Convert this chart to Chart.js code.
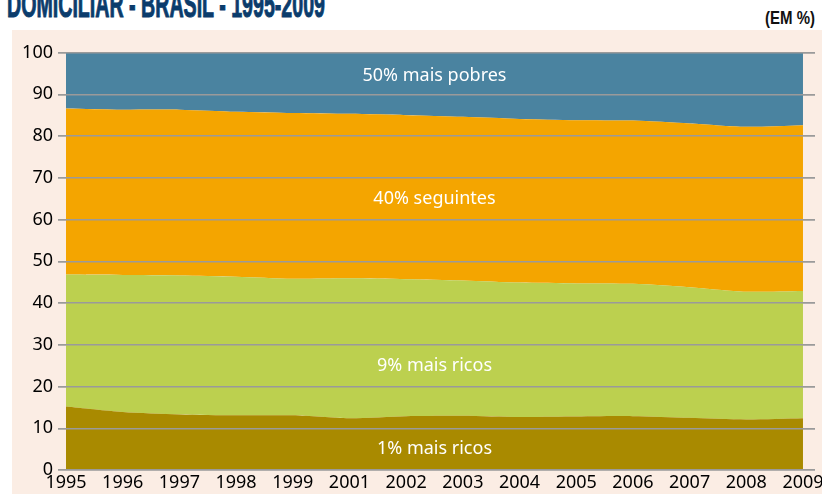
<!DOCTYPE html>
<html>
<head>
<meta charset="utf-8">
<script src="https://cdn.jsdelivr.net/npm/chart.js@4.4.1/dist/chart.umd.min.js"></script>
<style>
  body { margin: 0; width: 822px; height: 494px; overflow: hidden; background: #fff; position: relative; }
  #bg { position: absolute; left: 12px; top: 30px; right: 0; bottom: 0; background: #fbede4; }
  #title { position: absolute; left: 7px; top: -13.5px; font: bold 36px "Liberation Sans", "DejaVu Sans", sans-serif; line-height: 36px; color: #0b3c6c; white-space: nowrap; transform-origin: left top; -webkit-text-stroke: 1px #0b3c6c; }
  #unit { position: absolute; left: 765px; top: 8px; font: bold 19px "Liberation Sans", "DejaVu Sans", sans-serif; line-height: 19px; color: #111; white-space: nowrap; transform-origin: left top; }
  #myChart { position: absolute; left: 0; top: 0; }
</style>
</head>
<body>
<div id="bg"></div>
<div id="title">DOMICILIAR - BRASIL - 1995-2009</div>
<div id="unit">(EM %)</div>
<canvas id="myChart" width="822" height="494"></canvas>
<script>
// years (no survey in 2000)
const years = ["1995", "1996", "1997", "1998", "1999", "2001", "2002", "2003", "2004", "2005", "2006", "2007", "2008", "2009"];

// income shares, %
const rich1 = [15.2, 13.9, 13.3, 13.1, 13.1, 12.4, 12.9, 13.0, 12.7, 12.8, 12.9, 12.5, 12.1, 12.4];
const rich9 = [31.6, 32.8, 33.3, 33.2, 32.7, 33.5, 32.8, 32.4, 32.2, 31.9, 31.7, 31.3, 30.6, 30.5];
const next40 = [39.8, 39.6, 39.7, 39.5, 39.7, 39.4, 39.3, 39.2, 39.2, 39.1, 39.1, 39.2, 39.5, 39.7];
const poor50 = [13.4, 13.7, 13.7, 14.2, 14.5, 14.7, 15.0, 15.4, 15.9, 16.2, 16.3, 17.0, 17.8, 17.4];

const areaNames = ["1% mais ricos", "9% mais ricos", "40% seguintes", "50% mais pobres"];
const areaLabelY = [5, 25, 65, 94.4];
const areaLabelX = 6.5;

const yTicks = [0, 10, 20, 30, 40, 50, 60, 70, 80, 90, 100];

// fit the condensed headings
function squeeze(id, targetWidth) {
  const el = document.getElementById(id);
  const w = el.getBoundingClientRect().width;
  el.style.transform = "scaleX(" + (targetWidth / w) + ")";
}
squeeze("title", 318);
squeeze("unit", 50);

function pts(arr) {
  return arr.map((v, i) => ({ x: i, y: v }));
}

function area(data, color, fill) {
  return {
    data: pts(data),
    backgroundColor: color,
    borderWidth: 0,
    pointRadius: 0,
    fill: fill,
    tension: 0.25,
  };
}

// grid lines sit over the coloured areas
const gridOnTop = {
  id: "gridOnTop",
  afterDatasetsDraw(chart) {
    chart.scales.y.drawGrid(chart.chartArea);
  },
};

const areaText = {
  id: "areaText",
  afterDatasetsDraw(chart) {
    const ctx = chart.ctx;
    const x = chart.scales.x;
    const y = chart.scales.y;
    ctx.save();
    ctx.font = '18px "Noto Sans"';
    ctx.fillStyle = "#ffffff";
    ctx.textAlign = "center";
    ctx.textBaseline = "middle";
    areaNames.forEach((name, i) => {
      ctx.fillText(name, x.getPixelForValue(areaLabelX), y.getPixelForValue(areaLabelY[i]));
    });
    ctx.restore();
  },
};

const config = {
  type: "line",
  data: {
    datasets: [
      area(rich1, "#a98a00", "origin"),
      area(rich9, "#bcd04f", "-1"),
      area(next40, "#f4a500", "-1"),
      area(poor50, "#4a83a0", "-1"),
    ],
  },
  options: {
    responsive: false,
    animation: false,
    layout: { padding: { top: 52.5, right: 7, left: 0, bottom: 0 } },
    plugins: { legend: { display: false }, tooltip: { enabled: false } },
    scales: {
      x: {
        type: "linear",
        min: 0,
        max: 13.212,
        grid: { display: false, drawTicks: false },
        border: { display: false },
        ticks: {
          stepSize: 1,
          includeBounds: false,
          autoSkip: false,
          maxRotation: 0,
          padding: 2,
          color: "#000",
          font: { family: "Noto Sans", size: 18 },
          callback: (v) => (Number.isInteger(v) && years[v] ? years[v] : ""),
        },
        afterFit: (s) => {
          s.height = 24;
          s.paddingLeft = 0;
          s.paddingRight = 0;
        },
      },
      y: {
        stacked: true,
        min: 0,
        max: 100,
        grid: { color: "#9a9a9a", lineWidth: 1.5, tickLength: 8 },
        border: { display: false },
        ticks: {
          stepSize: 10,
          padding: 5,
          color: "#000",
          font: { family: "Noto Sans", size: 18 },
          callback: (v) => (yTicks.includes(v) ? v : ""),
        },
        afterFit: (s) => {
          s.width = 66;
        },
      },
    },
  },
  plugins: [gridOnTop, areaText],
};

const myChart = new Chart(document.getElementById("myChart"), config);
</script>
</body>
</html>
